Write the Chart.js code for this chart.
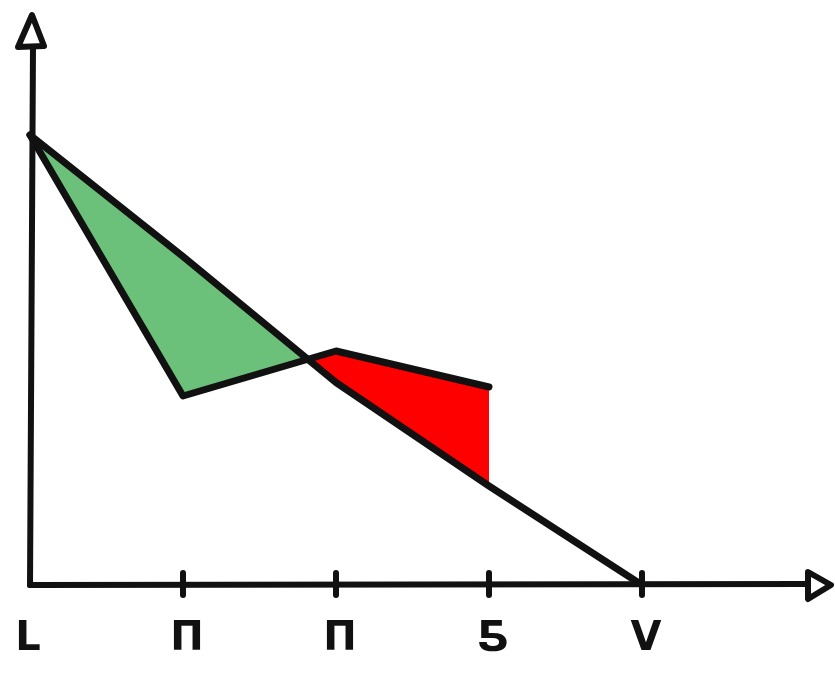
<!DOCTYPE html>
<html>
<head>
<meta charset="utf-8">
<script src="https://cdn.jsdelivr.net/npm/chart.js@4/dist/chart.umd.min.js"></script>
<style>
  html, body { margin: 0; padding: 0; background: #fff; }
  #wrap { width: 835px; height: 674px; }
</style>
</head>
<body>
<div id="wrap"><canvas id="sketchChart"></canvas></div>
<script>
// categories along the bottom axis
const categories = ['L', 'Π', 'Π', 'Ƽ', 'V'];
// the straight falling line
const lineA = [100, 73, 45, 22, 0];
// the bent line (ends at the 4th category)
const lineB = [100, 42, 52, 44, null];

const INK = '#111111';

// draws the hand-made axes, arrows, tick marks and labels
const sketchAxes = {
    id: 'sketchAxes',
    afterDraw(chart) {
        const { ctx, scales } = chart;
        const x0 = scales.x.getPixelForValue(0);
        const y0 = scales.y.getPixelForValue(0);
        ctx.save();
        ctx.strokeStyle = INK;
        ctx.lineWidth = 6;
        ctx.lineCap = 'round';
        ctx.lineJoin = 'round';

        // y axis
        ctx.beginPath();
        ctx.moveTo(x0, y0);
        ctx.lineTo(x0 + 3, 46);
        ctx.stroke();
        ctx.beginPath();
        ctx.moveTo(18, 47);
        ctx.lineTo(32, 15);
        ctx.lineTo(44, 46);
        ctx.closePath();
        ctx.fillStyle = '#fff';
        ctx.fill();
        ctx.stroke();

        // x axis
        ctx.beginPath();
        ctx.moveTo(x0, y0);
        ctx.lineTo(808, y0 - 1);
        ctx.stroke();
        ctx.beginPath();
        ctx.moveTo(808, 572);
        ctx.lineTo(831, 585);
        ctx.lineTo(808, 599);
        ctx.closePath();
        ctx.fill();
        ctx.stroke();

        // ticks and labels
        ctx.fillStyle = INK;
        ctx.font = 'bold 40px "DejaVu Sans"';
        ctx.textAlign = 'center';
        ctx.textBaseline = 'middle';
        categories.forEach((label, i) => {
            const px = scales.x.getPixelForValue(i);
            if (i > 0) {
                ctx.beginPath();
                ctx.moveTo(px, y0 - 12);
                ctx.lineTo(px, y0 + 10);
                ctx.stroke();
            }
            ctx.fillText(label, px + (i === 0 ? -2 : 4), 640);
        });
        ctx.restore();
    }
};

const ctx = document.getElementById('sketchChart').getContext('2d');
new Chart(ctx, {
    type: 'line',
    data: {
        labels: categories,
        datasets: [{
            label: 'A',
            data: lineA,
            borderColor: INK,
            borderWidth: 7,
            pointRadius: 0,
            tension: 0,
            fill: false,
            borderCapStyle: 'round',
            borderJoinStyle: 'round',
            clip: false
        }, {
            label: 'B',
            data: lineB,
            borderColor: INK,
            borderWidth: 7,
            pointRadius: 0,
            tension: 0,
            borderCapStyle: 'round',
            borderJoinStyle: 'round',
            clip: false,
            fill: {
                target: 0,
                above: '#ff0000',
                below: '#6cc17a'
            }
        }]
    },
    options: {
        responsive: true,
        maintainAspectRatio: false,
        animation: false,
        layout: {
            padding: { left: 30, right: 193, top: 135, bottom: 89 }
        },
        scales: {
            x: { display: false, offset: false },
            y: { display: false, min: 0, max: 100 }
        },
        plugins: {
            legend: { display: false },
            tooltip: { enabled: false }
        }
    },
    plugins: [sketchAxes]
});
</script>
</body>
</html>
